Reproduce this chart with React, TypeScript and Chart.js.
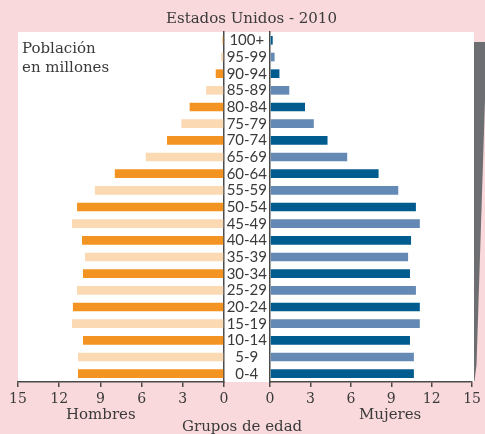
import React, { useEffect, useRef } from 'react';
import { Chart, registerables } from 'chart.js';

Chart.register(...registerables);

const ageGroups = ['100+', '95-99', '90-94', '85-89', '80-84', '75-79', '70-74', '65-69', '60-64', '55-59', '50-54', '45-49', '40-44', '35-39', '30-34', '25-29', '20-24', '15-19', '10-14', '5-9', '0-4'];
const hombres = [0.1, 0.2, 0.6, 1.3, 2.5, 3.1, 4.15, 5.7, 7.95, 9.4, 10.7, 11.07, 10.34, 10.12, 10.27, 10.7, 11.0, 11.07, 10.27, 10.63, 10.63];
const mujeres = [0.2, 0.34, 0.7, 1.43, 2.6, 3.25, 4.27, 5.73, 8.06, 9.52, 10.83, 11.12, 10.47, 10.25, 10.39, 10.83, 11.12, 11.12, 10.39, 10.68, 10.68];
const xMin = 0;
const xMax = 15;
const xStep = 3;

const hombresColors = ['#f39322', '#fbd9b2'];
const mujeresColors = ['#005b8f', '#6389b4'];
const axisColor = '#4a4a4a';
const textColor = '#3a3a3a';
const serif = "'DejaVu Serif', serif";

function xScale(reverse: boolean) {
  return {
    type: 'linear' as const,
    min: xMin,
    max: xMax,
    reverse,
    ticks: { stepSize: xStep, color: textColor, font: { family: serif, size: 14 }, padding: 4 },
    grid: { display: true, drawOnChartArea: false, drawTicks: true, tickLength: 5, color: axisColor, lineWidth: 1.5 },
    border: { display: true, color: axisColor, width: 1.5 },
    afterFit: (s: any) => { s.height = 52; },
  };
}

export default function App() {
  const leftRef = useRef<HTMLCanvasElement>(null);
  const rightRef = useRef<HTMLCanvasElement>(null);

  useEffect(() => {
    const left = new Chart(leftRef.current!, {
      type: 'bar',
      data: {
        labels: ageGroups,
        datasets: [{
          data: hombres,
          backgroundColor: ageGroups.map((_, i) => hombresColors[i % 2]),
          barPercentage: 0.52,
          categoryPercentage: 1,
        }],
      },
      options: {
        indexAxis: 'y',
        animation: false,
        responsive: false,
        maintainAspectRatio: false,
        layout: { padding: { left: 18, right: 26, top: 32, bottom: 0 } },
        plugins: { legend: { display: false }, tooltip: { enabled: false } },
        scales: {
          x: xScale(true) as any,
          y: {
            position: 'right',
            ticks: { display: false },
            grid: { display: false, drawTicks: false },
            border: { display: true, color: axisColor, width: 1.5 },
            afterFit: (s: any) => { s.width = 0; },
          },
        },
      },
    });
    const right = new Chart(rightRef.current!, {
      type: 'bar',
      data: {
        labels: ageGroups,
        datasets: [{
          data: mujeres,
          backgroundColor: ageGroups.map((_, i) => mujeresColors[i % 2]),
          barPercentage: 0.52,
          categoryPercentage: 1,
        }],
      },
      options: {
        indexAxis: 'y',
        animation: false,
        responsive: false,
        maintainAspectRatio: false,
        layout: { padding: { left: 24, right: 9, top: 32, bottom: 0 } },
        plugins: { legend: { display: false }, tooltip: { enabled: false } },
        scales: {
          x: xScale(false) as any,
          y: {
            position: 'left',
            ticks: { color: textColor, font: { family: 'Lato', size: 15 }, crossAlign: 'center', padding: 3, autoSkip: false },
            grid: { display: false, drawTicks: false },
            border: { display: true, color: axisColor, width: 1.5 },
            afterFit: (s: any) => { s.width = 46; },
          },
        },
      },
    });
    return () => { left.destroy(); right.destroy(); };
  }, []);

  const txt: React.CSSProperties = {
    position: 'absolute', fontFamily: serif, fontSize: 15, lineHeight: '18px', color: textColor, whiteSpace: 'nowrap',
  };

  return (
    <div style={{ position: 'absolute', left: 0, top: 0, width: 485, height: 434, background: '#f9d9dc', overflow: 'hidden' }}>
      <svg width={485} height={434} style={{ position: 'absolute', left: 0, top: 0 }}>
        <polygon points="474,42 485,42 485,100 476.5,365 474.5,381 474,381" fill="#6d6e71" />
      </svg>
      <div style={{ position: 'absolute', left: 18, top: 32, width: 456, height: 350, background: '#ffffff' }} />
      <canvas ref={leftRef} width={250} height={434} style={{ position: 'absolute', left: 0, top: 0, width: 250, height: 434 }} />
      <canvas ref={rightRef} width={285} height={434} style={{ position: 'absolute', left: 200, top: 0, width: 285, height: 434 }} />
      <div style={{ ...txt, left: 166, top: 9 }}>Estados Unidos - 2010</div>
      <div style={{ ...txt, left: 22, top: 39, lineHeight: '18.7px' }}>Población<br />en millones</div>
      <div style={{ ...txt, left: 66, top: 405 }}>Hombres</div>
      <div style={{ ...txt, left: 359, top: 405 }}>Mujeres</div>
      <div style={{ ...txt, left: 182, top: 416.5 }}>Grupos de edad</div>
    </div>
  );
}
